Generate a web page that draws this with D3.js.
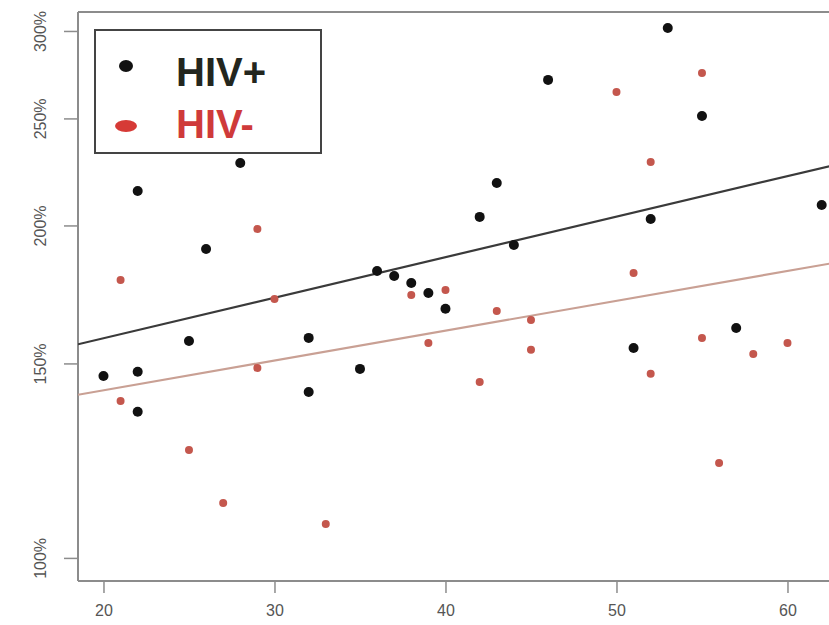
<!DOCTYPE html>
<html>
<head>
<meta charset="utf-8">
<script src="https://cdn.jsdelivr.net/npm/d3@7"></script>
<style>
  html, body { margin: 0; padding: 0; background: #fff; }
  svg { display: block; font-family: "Liberation Sans", Arial, sans-serif; }
</style>
</head>
<body>
<svg id="chart" width="829" height="625"></svg>
<script>
// HIV+ group: age and ratio
const posAge   = [20, 22, 22, 22, 25, 26, 28, 32, 32, 35, 36, 37, 38, 39, 40, 42, 43, 44, 46, 51, 52, 53, 55, 57, 62];
const posRatio = [1.461, 2.149, 1.474, 1.356, 1.572, 1.904, 2.278, 1.582, 1.413, 1.483, 1.819, 1.800, 1.774,
                  1.737, 1.681, 2.036, 2.185, 1.920, 2.709, 1.549, 2.027, 3.019, 2.513, 1.615, 2.087];

// HIV- group: age and ratio
const negAge   = [21, 21, 25, 27, 29, 29, 30, 33, 38, 40, 39, 42, 43, 45, 45, 50, 51, 52, 52, 55, 55, 56, 58, 60];
const negRatio = [1.785, 1.387, 1.252, 1.121, 1.985, 1.486, 1.716, 1.073, 1.730, 1.748, 1.565, 1.443, 1.673,
                  1.642, 1.543, 2.642, 1.811, 2.283, 1.468, 2.748, 1.582, 1.219, 1.530, 1.565];

// Fitted log-linear trends: ln(ratio) = intercept + slope * age
const trendPos = [0.289, 0.00845];
const trendNeg = [0.225, 0.00622];

// Axis ticks
const xTicks = [20, 30, 40, 50, 60];
const yTicks = [1.0, 1.5, 2.0, 2.5, 3.0];
const yTickLabels = ["100%", "150%", "200%", "250%", "300%"];

const seriesNames = ["HIV+", "HIV-"];

const svg = d3.select("#chart");

const plotLeft = 78, plotTop = 12, plotBottom = 581;
const x = d3.scaleLinear().domain([18.51, 64.5]).range([plotLeft, plotLeft + (64.5 - 18.51) * 17.1]);
const y = d3.scaleLog().domain([0.953, 3.121]).range([plotBottom, plotTop]);

const axisColor = "#8c8c8c";

// clip region for the plotting area
svg.append("clipPath").attr("id", "plotclip")
  .append("rect").attr("x", plotLeft).attr("y", plotTop)
  .attr("width", 829 - plotLeft).attr("height", plotBottom - plotTop);

// frame: left, top, bottom
svg.append("line").attr("x1", plotLeft).attr("x2", plotLeft).attr("y1", plotTop).attr("y2", plotBottom)
  .attr("stroke", axisColor).attr("stroke-width", 2);
svg.append("line").attr("x1", plotLeft).attr("x2", 829).attr("y1", plotTop).attr("y2", plotTop)
  .attr("stroke", axisColor).attr("stroke-width", 2.2);
svg.append("line").attr("x1", plotLeft).attr("x2", 829).attr("y1", plotBottom).attr("y2", plotBottom)
  .attr("stroke", axisColor).attr("stroke-width", 2.2);

// x axis
const xAxis = svg.append("g").attr("transform", `translate(0,${plotBottom})`)
  .call(d3.axisBottom(x).tickValues(xTicks).tickSize(12).tickPadding(12).tickFormat(d3.format("d")));
xAxis.select(".domain").remove();
xAxis.selectAll(".tick line").attr("stroke", axisColor).attr("stroke-width", 1.5);
xAxis.selectAll(".tick text").attr("fill", "#555").attr("font-size", 16)
  .attr("font-family", "'Liberation Sans', Arial, sans-serif");

// y axis
const yAxis = svg.append("g").attr("transform", `translate(${plotLeft},0)`)
  .call(d3.axisLeft(y).tickValues(yTicks).tickSize(14).tickFormat((d, i) => yTickLabels[i]));
yAxis.select(".domain").remove();
yAxis.selectAll(".tick line").attr("stroke", axisColor).attr("stroke-width", 1.5);
yAxis.selectAll(".tick text")
  .attr("fill", "#555").attr("font-size", 16)
  .attr("font-family", "'Liberation Sans', Arial, sans-serif")
  .attr("text-anchor", "middle")
  .attr("x", 0).attr("dy", 0)
  .attr("transform", "translate(-36,0) rotate(-90)")
  .attr("dominant-baseline", "middle");

const plot = svg.append("g").attr("clip-path", "url(#plotclip)");

// trend lines
function trendLine(coef) {
  const [a, b] = coef;
  return x.domain().map(v => [x(v), y(Math.exp(a + b * v))]);
}
plot.append("path").datum(trendLine(trendNeg))
  .attr("d", d3.line()).attr("stroke", "#c9a094").attr("stroke-width", 2.2).attr("fill", "none");
plot.append("path").datum(trendLine(trendPos))
  .attr("d", d3.line()).attr("stroke", "#3a3a3a").attr("stroke-width", 2.2).attr("fill", "none");

// HIV- points
plot.selectAll("circle.neg").data(negAge.map((a, i) => [a, negRatio[i]])).enter()
  .append("circle").attr("class", "neg")
  .attr("cx", d => x(d[0])).attr("cy", d => y(d[1])).attr("r", 4)
  .attr("fill", "#c4574d");

// HIV+ points
plot.selectAll("circle.pos").data(posAge.map((a, i) => [a, posRatio[i]])).enter()
  .append("circle").attr("class", "pos")
  .attr("cx", d => x(d[0])).attr("cy", d => y(d[1])).attr("r", 5)
  .attr("fill", "#111");

// legend
const lg = svg.append("g");
lg.append("rect").attr("x", 95).attr("y", 30).attr("width", 226).attr("height", 123)
  .attr("fill", "#fff").attr("stroke", "#444").attr("stroke-width", 2);
lg.append("ellipse").attr("cx", 126).attr("cy", 66).attr("rx", 7).attr("ry", 6).attr("fill", "#111");
lg.append("ellipse").attr("cx", 126).attr("cy", 126).attr("rx", 11).attr("ry", 6).attr("fill", "#d63a36");
lg.append("text").attr("x", 176).attr("y", 86).text(seriesNames[0])
  .attr("font-size", 40).attr("font-weight", "bold").attr("fill", "#23261e");
lg.append("text").attr("x", 176).attr("y", 138).text(seriesNames[1])
  .attr("font-size", 40).attr("font-weight", "bold").attr("fill", "#cf3a3a");
</script>
</body>
</html>
